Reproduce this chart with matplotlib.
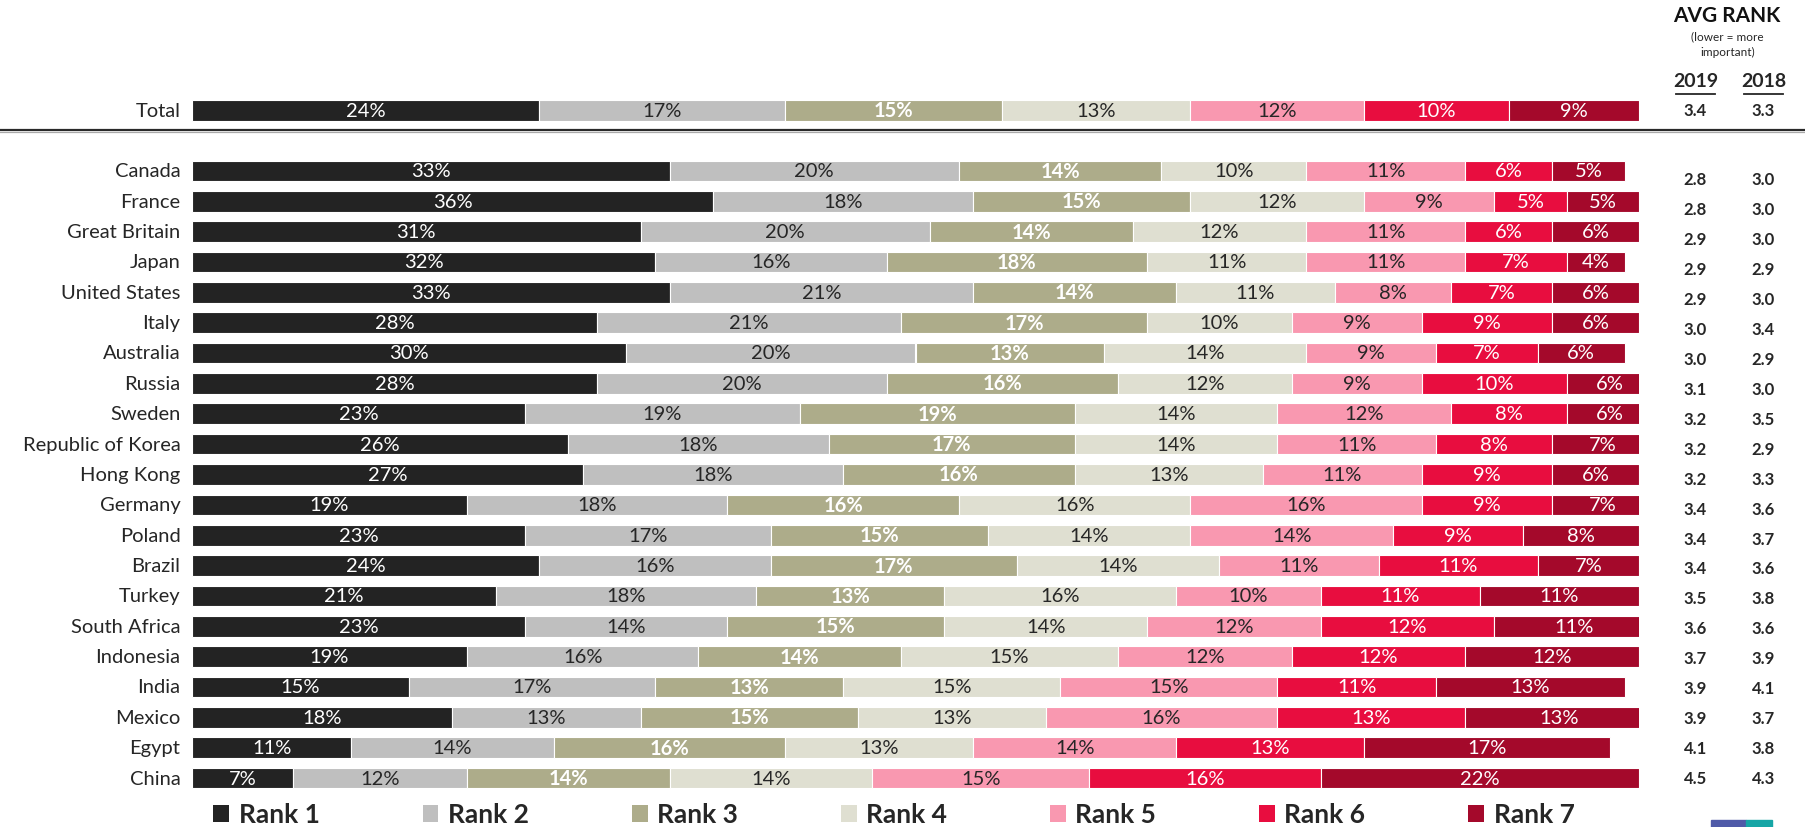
import matplotlib
matplotlib.use("Agg")
import matplotlib.pyplot as plt
from matplotlib.patches import Patch, Rectangle
from matplotlib.lines import Line2D

plt.rcParams["font.family"] = ["Lato", "DejaVu Sans"]

countries = [
    "Total", "Canada", "France", "Great Britain", "Japan", "United States", "Italy",
    "Australia", "Russia", "Sweden", "Republic of Korea", "Hong Kong", "Germany",
    "Poland", "Brazil", "Turkey", "South Africa", "Indonesia", "India", "Mexico",
    "Egypt", "China",
]
rank1 = [24, 33, 36, 31, 32, 33, 28, 30, 28, 23, 26, 27, 19, 23, 24, 21, 23, 19, 15, 18, 11, 7]
rank2 = [17, 20, 18, 20, 16, 21, 21, 20, 20, 19, 18, 18, 18, 17, 16, 18, 14, 16, 17, 13, 14, 12]
rank3 = [15, 14, 15, 14, 18, 14, 17, 13, 16, 19, 17, 16, 16, 15, 17, 13, 15, 14, 13, 15, 16, 14]
rank4 = [13, 10, 12, 12, 11, 11, 10, 14, 12, 14, 14, 13, 16, 14, 14, 16, 14, 15, 15, 13, 13, 14]
rank5 = [12, 11, 9, 11, 11, 8, 9, 9, 9, 12, 11, 11, 16, 14, 11, 10, 12, 12, 15, 16, 14, 15]
rank6 = [10, 6, 5, 6, 7, 7, 9, 7, 10, 8, 8, 9, 9, 9, 11, 11, 12, 12, 11, 13, 13, 16]
rank7 = [9, 5, 5, 6, 4, 6, 6, 6, 6, 6, 7, 6, 7, 8, 7, 11, 11, 12, 13, 13, 17, 22]
avg_2019 = ["3.4", "2.8", "2.8", "2.9", "2.9", "2.9", "3.0", "3.0", "3.1", "3.2", "3.2",
            "3.2", "3.4", "3.4", "3.4", "3.5", "3.6", "3.7", "3.9", "3.9", "4.1", "4.5"]
avg_2018 = ["3.3", "3.0", "3.0", "3.0", "2.9", "3.0", "3.4", "2.9", "3.0", "3.5", "2.9",
            "3.3", "3.6", "3.7", "3.6", "3.8", "3.6", "3.9", "4.1", "3.7", "3.8", "4.3"]
rank_labels = ["Rank 1", "Rank 2", "Rank 3", "Rank 4", "Rank 5", "Rank 6", "Rank 7"]

colors = ["#232323", "#bfbfbf", "#adac8a", "#dfdfd1", "#f998b0", "#e80d3f", "#a4092b"]
text_colors = ["white", "#262626", "white", "#262626", "#262626", "white", "white"]
text_weights = ["normal", "normal", "bold", "normal", "normal", "normal", "normal"]
series = [rank1, rank2, rank3, rank4, rank5, rank6, rank7]

# Total sits two rows above Canada
ypos = [-2] + list(range(len(countries) - 1))

W, H = 1805, 827
fig = plt.figure(figsize=(W / 100, H / 100), dpi=100)
x0, x1 = 192, 1639
ax = fig.add_axes([x0 / W, 0, (x1 - x0) / W, 1])
ax.set_xlim(0, 100)
ax.set_ylim(21.61, -5.63)
ax.axis("off")

left = [0] * len(countries)
for vals, col, tc, tw in zip(series, colors, text_colors, text_weights):
    ax.barh(ypos, vals, left=left, height=0.68, color=col, edgecolor="white", linewidth=0.8)
    for y, l, v in zip(ypos, left, vals):
        ax.text(l + v / 2, y + 0.03, f"{v}%", ha="center", va="center",
                color=tc, fontsize=14.5, fontweight=tw)
    left = [a + b for a, b in zip(left, vals)]

for y, name in zip(ypos, countries):
    ax.text(-0.8, y + 0.03, name, ha="right", va="center", fontsize=14.5, color="#262626")

# average rank columns
c19, c18 = 103.9, 108.6
n = len(countries) - 1
for i, (y, a, b) in enumerate(zip(ypos, avg_2019, avg_2018)):
    off = 0.0 if i == 0 else 0.28 * (1 - (i - 1) / (n - 1))
    for cx, s in ((c19, a), (c18, b)):
        ax.text(cx, y + off + 0.03, s, ha="center", va="center", fontsize=12,
                fontweight="bold", color="#262626", clip_on=False)

ax.text(106.1, -5.10, "AVG RANK", ha="center", va="center", fontsize=15, fontweight="bold", color="#111111")
ax.text(106.1, -4.41, "(lower = more", ha="center", va="center", fontsize=8.5, color="#262626")
ax.text(106.1, -3.89, "important)", ha="center", va="center", fontsize=8.5, color="#262626")
for cx, s in ((c19, "2019"), (c18, "2018")):
    ax.text(cx, -2.93, s, ha="center", va="center", fontsize=14, fontweight="bold",
            color="#262626", clip_on=False)
    ax.plot([cx - 1.35, cx + 1.35], [-2.52, -2.52], color="#262626", lw=1.3, clip_on=False)

# separator under Total
fig.add_artist(Line2D([0, 1], [1 - 130 / H, 1 - 130 / H], color="#2a2a2a", lw=1.6))
fig.add_artist(Line2D([0, 1], [1 - 131.8 / H, 1 - 131.8 / H], color="#aaaaaa", lw=0.9))

handles = [Patch(facecolor=c, edgecolor="none") for c in colors]
fig.legend(handles, rank_labels, loc="center", bbox_to_anchor=(894 / W, 1 - 815 / H), ncol=7,
           frameon=False, handlelength=0.6, handleheight=0.6, handletextpad=0.36,
           columnspacing=3.9, prop={"size": 19, "weight": "bold"}, labelcolor="#262626")

# corner logo fragment
fig.add_artist(Rectangle((1711 / W, 0), 35 / W, 7 / H, transform=fig.transFigure, color="#4f5aa8"))
fig.add_artist(Rectangle((1746 / W, 0), 26 / W, 7 / H, transform=fig.transFigure, color="#16a6a6"))

fig.savefig("out.png", dpi=100)
